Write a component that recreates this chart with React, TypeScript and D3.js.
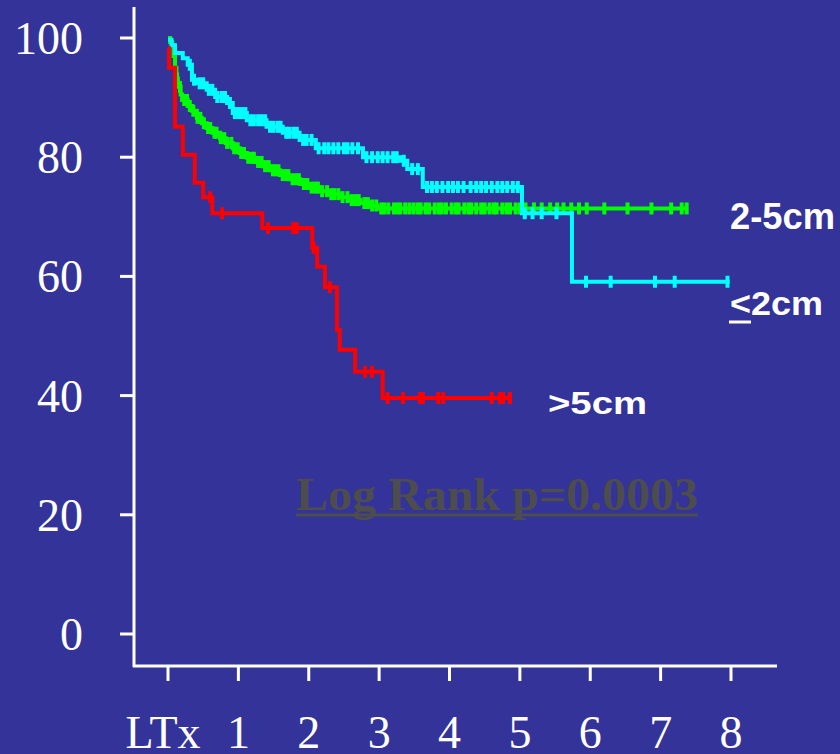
import React from "react";
import * as d3 from "d3";

// ---- data (years after LTx, survival %) ----
const xTickLabels = ["LTx", "1", "2", "3", "4", "5", "6", "7", "8"];
const xTickValues = [0, 1, 2, 3, 4, 5, 6, 7, 8];
const yTickValues = [0, 20, 40, 60, 80, 100];

// <=2cm (cyan): step points [time, survival]
const smallSteps: [number, number][] = [
  [0, 99.7], [0.05, 98.8], [0.1, 97.5], [0.21, 96.6], [0.28, 95.5], [0.34, 93.0],
  [0.41, 92.4], [0.55, 91.3], [0.67, 90.1], [0.84, 89.1], [0.92, 87.4], [1.12, 86.2],
  [1.4, 85.1], [1.63, 84.1], [1.87, 82.9], [2.1, 81.5], [2.77, 80.0], [3.3, 79.4],
  [3.4, 78.0], [3.62, 75.0], [5.03, 70.6], [5.74, 59.1],
];
const smallEnd = 7.98;
const smallCensor = [
  0.31, 0.37, 0.45, 0.5, 0.58, 0.63, 0.7, 0.76, 0.81, 0.88, 0.95, 1.0, 1.05, 1.1, 1.17,
  1.22, 1.28, 1.33, 1.38, 1.45, 1.5, 1.56, 1.6, 1.68, 1.72, 1.78, 1.83, 1.92, 1.97, 2.04,
  2.14, 2.22, 2.28, 2.35, 2.42, 2.5, 2.55, 2.62, 2.7, 2.82, 2.9, 2.98, 3.05, 3.12, 3.2,
  3.25, 3.35, 3.47, 3.55, 3.68, 3.75, 3.82, 3.9, 3.98, 4.05, 4.12, 4.2, 4.3, 4.38, 4.45,
  4.52, 4.6, 4.68, 4.75, 4.82, 4.9, 4.97, 5.07, 5.18, 5.31, 5.52, 5.94, 6.29, 6.92, 7.2,
  7.95,
];

// 2-5cm (green)
const midSteps: [number, number][] = [
  [0, 100], [0.03, 99.3], [0.06, 98.8], [0.08, 97.0], [0.1, 95.0], [0.12, 93.2],
  [0.14, 91.8], [0.18, 90.5], [0.2, 89.6], [0.28, 88.6], [0.34, 87.8], [0.41, 86.6],
  [0.48, 85.7], [0.55, 84.9], [0.63, 84.1], [0.74, 83.2], [0.82, 82.4], [0.92, 81.5],
  [1.02, 80.7], [1.12, 79.9], [1.24, 79.2], [1.35, 78.5], [1.46, 77.8], [1.59, 77.0],
  [1.72, 76.3], [1.88, 75.5], [2.02, 74.9], [2.16, 74.3], [2.3, 73.8], [2.44, 73.3],
  [2.58, 72.8], [2.73, 72.3], [2.85, 71.9], [2.97, 71.4],
];
const midEnd = 7.37;
const midCensor = [
  0.13, 0.17, 0.23, 0.27, 0.31, 0.36, 0.42, 0.46, 0.51, 0.57, 0.6, 0.66, 0.69, 0.75,
  0.8, 0.84, 0.9, 0.94, 0.99, 1.04, 1.08, 1.14, 1.19, 1.22, 1.28, 1.33, 1.38, 1.43, 1.49,
  1.53, 1.57, 1.63, 1.68, 1.71, 1.77, 1.82, 1.86, 1.93, 1.98, 2.04, 2.09, 2.13, 2.19,
  2.26, 2.32, 2.36, 2.42, 2.48, 2.55, 2.61, 2.66, 2.71, 2.79, 2.84, 2.9, 2.96, 3.03,
  3.07, 3.13, 3.21, 3.26, 3.3, 3.37, 3.43, 3.49, 3.55, 3.59, 3.66, 3.71, 3.79, 3.85,
  3.89, 3.95, 4.03, 4.09, 4.13, 4.21, 4.27, 4.31, 4.38, 4.45, 4.5, 4.57, 4.63, 4.67,
  4.75, 4.81, 4.86, 4.94, 5.0, 5.08, 5.2, 5.31, 5.43, 5.53, 5.62, 5.73, 5.84, 5.95,
  6.2, 6.53, 6.87, 7.15, 7.3, 7.37,
];

// >5cm (red)
const largeSteps: [number, number][] = [
  [0, 98.3], [0.015, 95.0], [0.1, 85.1], [0.21, 80.4], [0.38, 75.7], [0.5, 73.3],
  [0.63, 70.6], [1.34, 68.1], [2.05, 64.8], [2.12, 61.6], [2.23, 58.2], [2.4, 51.0],
  [2.44, 47.7], [2.66, 44.0], [3.05, 39.6],
];
const largeEnd = 4.86;
const largeCensor = [
  0.6, 0.77, 1.42, 1.78, 1.83, 2.07, 2.3, 2.8, 2.9, 3.12, 3.34, 3.58, 3.62, 3.84, 3.91,
  4.6, 4.72, 4.76, 4.86,
];

const W = 840;
const H = 754;
const BG = "#333399";

const x = d3.scaleLinear().domain([0, 8]).range([168, 731]);
const y = d3.scaleLinear().domain([0, 100]).range([634, 38]);

const stepLine = d3
  .line<[number, number]>()
  .x((d) => x(d[0]))
  .y((d) => y(d[1]))
  .curve(d3.curveStepAfter);

function valueAt(steps: [number, number][], t: number) {
  let v = steps[0][1];
  for (const s of steps) if (s[0] <= t) v = s[1];
  return v;
}

function Curve({ steps, end, censor, color }: { steps: [number, number][]; end: number; censor: number[]; color: string }) {
  const pts: [number, number][] = [...steps, [end, steps[steps.length - 1][1]]];
  return (
    <g>
      <path d={stepLine(pts) || ""} fill="none" stroke={color} strokeWidth={4} />
      {censor.map((t, i) => {
        const cx = x(t);
        const cy = y(valueAt(steps, t));
        return <line key={i} x1={cx} x2={cx} y1={cy - 6} y2={cy + 6} stroke={color} strokeWidth={4} />;
      })}
    </g>
  );
}

export default function App() {
  return (
    <svg width={W} height={H} style={{ position: "absolute", left: 0, top: 0 }} xmlns="http://www.w3.org/2000/svg">
      <rect x={0} y={0} width={W} height={H} fill={BG} />
      {/* axes */}
      <line x1={134} x2={134} y1={7} y2={667} stroke="#fff" strokeWidth={3} />
      <line x1={133} x2={777} y1={666} y2={666} stroke="#fff" strokeWidth={3} />
      {yTickValues.map((v) => (
        <g key={v}>
          <line x1={120} x2={134} y1={y(v)} y2={y(v)} stroke="#fff" strokeWidth={3} />
          <text x={83} y={y(v) + 16} textAnchor="end" fill="#fff" fontFamily="'Liberation Serif', serif" fontSize={46}>
            {v}
          </text>
        </g>
      ))}
      {xTickValues.map((t, i) => (
        <g key={t}>
          <line x1={x(t)} x2={x(t)} y1={666} y2={681} stroke="#fff" strokeWidth={3} />
          <text x={i === 0 ? x(t) - 5 : x(t)} y={748} textAnchor="middle" fill="#fff" fontFamily="'Liberation Serif', serif" fontSize={46}>
            {xTickLabels[i]}
          </text>
        </g>
      ))}

      <Curve steps={midSteps} end={midEnd} censor={midCensor} color="#00ff00" />
      <Curve steps={smallSteps} end={smallEnd} censor={smallCensor} color="#00ffff" />
      <Curve steps={largeSteps} end={largeEnd} censor={largeCensor} color="#ff0000" />

      {/* labels */}
      <text x={730} y={229} fill="#fff" fontFamily="'Liberation Sans', Arial, sans-serif" fontWeight="bold" fontSize={36} textLength={105} lengthAdjust="spacingAndGlyphs">
        2-5cm
      </text>
      <text x={730} y={315} fill="#fff" fontFamily="'Liberation Sans', Arial, sans-serif" fontWeight="bold" fontSize={33} textLength={93} lengthAdjust="spacingAndGlyphs">
        {"<2cm"}
      </text>
      <line x1={729} x2={751} y1={322} y2={322} stroke="#fff" strokeWidth={3} />
      <text x={548} y={414} fill="#fff" fontFamily="'Liberation Sans', Arial, sans-serif" fontWeight="bold" fontSize={32} textLength={99} lengthAdjust="spacingAndGlyphs">
        {">5cm"}
      </text>

      <text x={296} y={510} fill="#4d4d4d" fontFamily="'Liberation Serif', serif" fontWeight="bold" fontSize={47} textLength={402} lengthAdjust="spacingAndGlyphs">
        Log Rank p=0.0003
      </text>
      <line x1={296} x2={698} y1={515} y2={515} stroke="#4d4d4d" strokeWidth={3} />
    </svg>
  );
}
